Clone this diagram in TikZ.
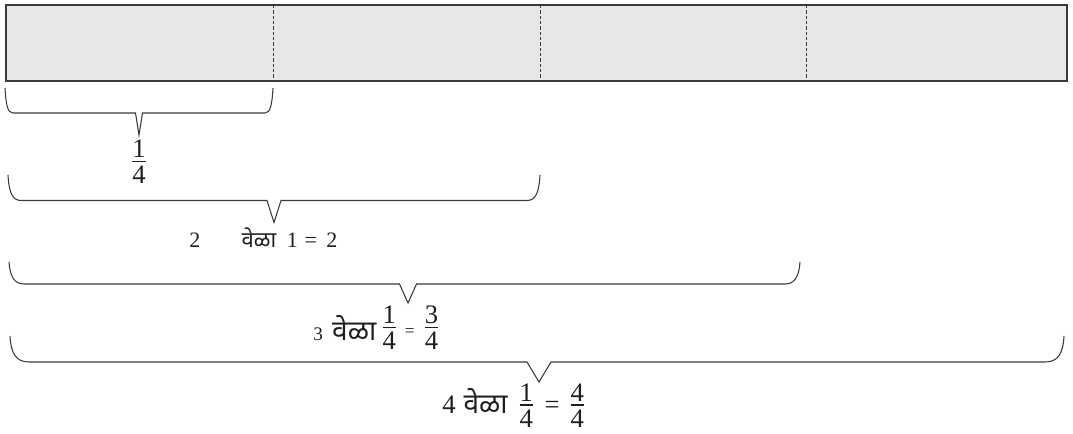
\documentclass[tikz,border=0pt]{standalone}
\usepackage{amsmath}
\usepackage{fontspec}
\setmainfont{Liberation Serif}
\newfontfamily\devfont[Script=Devanagari]{Noto Sans}
\usetikzlibrary{calc}
\definecolor{ink}{HTML}{3A3A3A}
\definecolor{barfill}{HTML}{E6E7E8}
\tikzset{
  bar/.style={draw=ink,line width=1.1pt,fill=barfill},
  cut/.style={draw=ink,line width=.6pt,dash pattern=on 2.4pt off 1.6pt},
  brc/.style={draw=ink,line width=.8pt,line join=miter},
  lbl/.style={inner sep=0pt,text=black!88},
}
% under-brace: left, right, top, line, tip x, half width, depth, curl
\newcommand{\ubrace}[8]{%
  \draw[brc] (#1,#3) .. controls (#1+1,#4-8) and (#1+#8/3,#4) .. (#1+#8,#4)
    -- (#5-#6,#4) -- (#5,#4+#7) -- (#5+#6,#4)
    -- (#2-#8,#4) .. controls (#2-#8/3,#4) and (#2-1,#4-8) .. (#2,#3);}
% fraction with text-size digits
\newcommand{\fr}[2]{\ensuremath{\frac{\mbox{#1}}{\mbox{\raisebox{-.22em}{#2}}}}}
\newcommand{\sz}[1]{\fontsize{#1}{#1}\selectfont}

\begin{document}
\begin{tikzpicture}[x=0.75pt,y=-0.75pt]
  \useasboundingbox (0,0) rectangle (1073,434);
  % the strip, cut in four
  \draw[bar] (6,5) coordinate (sw) rectangle (1067,81) coordinate (ne);
  \foreach \i/\x in {1/273,2/540,3/806} {
    \draw[cut] (\x,5) coordinate (c\i) -- (\x,81);
  }
  % braces
  \ubrace{5}{273}{88}{113}{139}{3.5}{22}{8}
  \ubrace{8}{540}{175}{200.5}{274}{7}{22}{13}
  \ubrace{9}{800}{262}{284}{408}{8.5}{19}{15}
  \ubrace{10}{1064}{336}{362}{539}{12}{20}{19}
  % labels
  \node[lbl,anchor=base] (one) at (139,168.5) {\sz{20}\fr{1}{4}};
  \node[lbl,anchor=base west] (two) at (189,248)
    {\sz{16.5}2\hspace{31pt}{\devfont वेळा}\hspace{8pt}1\hspace{5pt}=\hspace{7pt}2};
  \node[lbl,anchor=base west] (three) at (313,340)
    {{\sz{14.4}3}\hspace{7pt}{\sz{21}\devfont वेळा}\hspace{3.5pt}%
     \raisebox{4.5pt}{\sz{20}\fr{1}{4}}\hspace{5.5pt}\raisebox{3pt}{\sz{13}=}\hspace{6.5pt}%
     \raisebox{4.5pt}{\sz{20}\fr{3}{4}}};
  \node[lbl,anchor=base west] (four) at (442,413)
    {\sz{20}4\hspace{6pt}{\sz{21}\devfont वेळा}\hspace{7.8pt}%
     \raisebox{.8pt}{\fr{1}{4}}\hspace{7.5pt}=\hspace{7pt}\raisebox{.8pt}{\fr{4}{4}}};
\end{tikzpicture}
\end{document}
